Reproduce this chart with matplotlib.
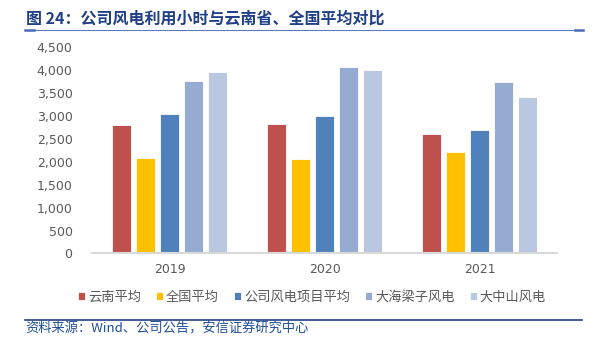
import matplotlib
matplotlib.use("Agg")
import matplotlib.pyplot as plt
import numpy as np
from matplotlib.ticker import FuncFormatter, MultipleLocator
from matplotlib.lines import Line2D

plt.rcParams['font.family'] = ['Noto Sans CJK SC', 'DejaVu Sans']

years = ["2019", "2020", "2021"]
series_names = ["云南平均", "全国平均", "公司风电项目平均", "大海梁子风电", "大中山风电"]
yunnan = [2800, 2820, 2610]
national = [2080, 2060, 2210]
company = [3055, 3010, 2690]
dahai = [3775, 4065, 3745]
dazhong = [3955, 4015, 3425]
colors = ["#C0504D", "#FFC000", "#4F81BD", "#95ABD1", "#BAC7E0"]

title = "图 24：公司风电利用小时与云南省、全国平均对比"
source = "资料来源：Wind、公司公告，安信证券研究中心"

W, H = 599, 348
fig = plt.figure(figsize=(W / 100, H / 100), dpi=100)
ax = fig.add_axes([0.1536, 0.2716, 0.7764, 0.5924])

data = [yunnan, national, company, dahai, dazhong]
x = np.arange(len(years))
step = 0.155
width = 0.125
for i, (vals, c, name) in enumerate(zip(data, colors, series_names)):
    ax.bar(x + (i - 2) * step, vals, width, color=c, label=name,
           edgecolor="white", linewidth=0.6, zorder=2)

ax.set_xlim(-0.5, 2.5)
ax.set_ylim(0, 4500)
ax.yaxis.set_major_locator(MultipleLocator(500))
ax.yaxis.set_major_formatter(FuncFormatter(lambda v, p: f"{int(v):,}"))
ax.set_xticks(x)
ax.set_xticklabels(years)
for s in ["top", "right", "left"]:
    ax.spines[s].set_visible(False)
ax.spines["bottom"].set_color("#D9D9D9")
ax.spines["bottom"].set_linewidth(1.5)
ax.tick_params(axis="both", length=0, labelsize=9.5, colors="#595959")
ax.tick_params(axis="y", pad=14)
ax.tick_params(axis="x", pad=7)
for lbl in ax.get_yticklabels() + ax.get_xticklabels():
    lbl.set_family(['DejaVu Sans'])
    lbl.set_fontsize(9)

leg = fig.legend(loc="center left", bbox_to_anchor=(78 / W, 1 - 297.5 / H), ncol=5,
                 frameon=False, borderpad=0, borderaxespad=0,
                 fontsize=9.5, handlelength=0.55, handleheight=0.55, handletextpad=0.2,
                 columnspacing=1.15, labelcolor="#595959")

fig.text(26 / W, 1 - 18.5 / H, title, fontsize=11.5, fontweight="bold", color="#1F3F86",
         va="center", ha="left")
# title underline
fig.add_artist(Line2D([25 / W, 580 / W], [1 - 29.7 / H] * 2, color="#5B7DBE", lw=0.8,
                      transform=fig.transFigure))
fig.add_artist(Line2D([25 / W, 34 / W], [1 - 30.3 / H] * 2, color="#4A6FB5", lw=1.8,
                      transform=fig.transFigure))
fig.add_artist(Line2D([575 / W, 583 / W], [1 - 30.3 / H] * 2, color="#4A6FB5", lw=1.8,
                      transform=fig.transFigure))
# bottom rule
fig.add_artist(Line2D([25 / W, 582 / W], [1 - 320 / H] * 2, color="#1F3F86", lw=1.2,
                      transform=fig.transFigure))
fig.text(25 / W, 1 - 328.5 / H, source, fontsize=9.5, color="#1F4E9A", style="italic",
         va="center", ha="left")

fig.savefig("out.png", dpi=100)
